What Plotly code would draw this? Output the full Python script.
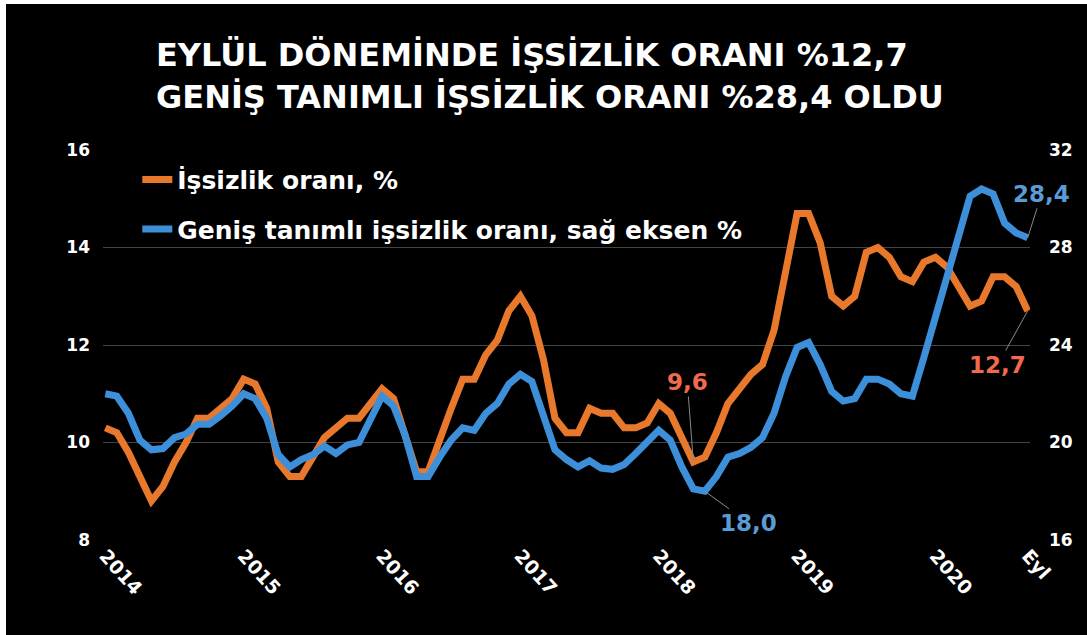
import plotly.graph_objects as go

# Monthly data, Jan 2014 .. Sep 2020 (index 0..80)
months = list(range(81))
unemployment = [
    10.3, 10.2, 9.8, 9.3, 8.8, 9.1, 9.6, 10.0, 10.5, 10.5, 10.7, 10.9,
    11.3, 11.2, 10.7, 9.6, 9.3, 9.3, 9.7, 10.1, 10.3, 10.5, 10.5, 10.8,
    11.1, 10.9, 10.2, 9.4, 9.4, 10.1, 10.7, 11.3, 11.3, 11.8, 12.1, 12.7,
    13.0, 12.6, 11.7, 10.5, 10.2, 10.2, 10.7, 10.6, 10.6, 10.3, 10.3, 10.4,
    10.8, 10.6, 10.1, 9.6, 9.7, 10.2, 10.8, 11.1, 11.4, 11.6, 12.3, 13.5,
    14.7, 14.7, 14.1, 13.0, 12.8, 13.0, 13.9, 14.0, 13.8, 13.4, 13.3, 13.7,
    13.8, 13.6, 13.2, 12.8, 12.9, 13.4, 13.4, 13.2, 12.7,
]
broad_unemployment = [
    22.0, 21.9, 21.2, 20.1, 19.7, 19.75, 20.2, 20.35, 20.75, 20.75, 21.1, 21.5,
    22.0, 21.8, 21.0, 19.5, 19.0, 19.3, 19.5, 19.85, 19.55, 19.9, 20.0, 20.9,
    21.9, 21.5, 20.3, 18.6, 18.6, 19.4, 20.1, 20.6, 20.5, 21.2, 21.6, 22.4,
    22.8, 22.5, 21.1, 19.7, 19.3, 19.0, 19.25, 18.95, 18.9, 19.1, 19.55, 20.0,
    20.5, 20.1, 19.0, 18.1, 18.0, 18.6, 19.4, 19.55, 19.8, 20.2, 21.2, 22.7,
    23.9, 24.1, 23.2, 22.1, 21.7, 21.8, 22.6, 22.6, 22.4, 22.0, 21.9, 23.5,
    25.2, 26.8, 28.5, 30.1, 30.4, 30.2, 29.0, 28.6, 28.4,
]
tick_positions = [0, 12, 24, 36, 48, 60, 72, 80]
tick_labels = ["2014", "2015", "2016", "2017", "2018", "2019", "2020", "Eyl"]
title_lines = ["EYLÜL DÖNEMİNDE İŞSİZLİK ORANI %12,7",
               "GENİŞ TANIMLI İŞSİZLİK ORANI %28,4 OLDU"]
series_names = ["İşsizlik oranı, %", "Geniş tanımlı işsizlik oranı, sağ eksen %"]

ORANGE = "#E8782B"
BLUE = "#3E8FDA"
LABEL_RED = "#F06A4E"
LABEL_BLUE = "#5B9BD5"
FONT = "DejaVu Sans"

fig = go.Figure()
fig.add_trace(go.Scatter(
    x=months, y=unemployment, name=series_names[0], mode="lines",
    line=dict(color=ORANGE, width=7), legendgroup="a", yaxis="y"))
fig.add_trace(go.Scatter(
    x=months, y=broad_unemployment, name=series_names[1], mode="lines",
    line=dict(color=BLUE, width=7), legendgroup="b", yaxis="y2"))

ann_font = dict(family=FONT, size=23, weight="bold")
annotations = [
    dict(x=51, y=unemployment[51], xref="x", yref="y", text="9,6",
         font=dict(ann_font, color=LABEL_RED), ax=-6, ay=-80),
    dict(x=52, y=broad_unemployment[52], xref="x", yref="y2", text="18,0",
         font=dict(ann_font, color=LABEL_BLUE), ax=44, ay=32),
    dict(x=80, y=broad_unemployment[80], xref="x", yref="y2", text="28,4",
         font=dict(ann_font, color=LABEL_BLUE), ax=14, ay=-44),
    dict(x=80, y=unemployment[80], xref="x", yref="y", text="12,7",
         font=dict(ann_font, color=LABEL_RED), ax=-30, ay=54),
]
for a in annotations:
    a.update(showarrow=True, arrowhead=0, arrowwidth=1, arrowcolor="#8a8a8a")

tick_font = dict(family=FONT, size=17, color="white", weight="bold")
xtick_font = dict(family=FONT, size=19, color="white", weight="bold")

fig.update_layout(
    width=1081, height=631,
    paper_bgcolor="black", plot_bgcolor="black",
    margin=dict(l=97, r=57, t=146, b=95),
    title=dict(text="<br>".join(title_lines), xref="container", yref="container",
               x=150 / 1081, xanchor="left", y=1 - 62 / 631, yanchor="top",
               font=dict(family=FONT, size=32, color="white", weight="bold")),
    showlegend=True,
    legend=dict(x=0.037, y=0.983, xanchor="left", yanchor="top",
                bgcolor="rgba(0,0,0,0)", tracegroupgap=14,
                font=dict(family=FONT, size=25, color="white", weight="bold")),
    xaxis=dict(range=[-0.2, 80.2], tickmode="array", tickvals=tick_positions,
               ticktext=tick_labels, tickangle=48, tickfont=xtick_font,
               showgrid=False, zeroline=False, showline=False, ticks=""),
    yaxis=dict(range=[8, 16], dtick=2, tickfont=tick_font, gridcolor="#444444",
               gridwidth=1, zeroline=False, showline=False, ticklabelstandoff=12),
    yaxis2=dict(range=[16, 32], dtick=4, tickfont=tick_font, overlaying="y",
                side="right", showgrid=False, zeroline=False, showline=False,
                ticklabelstandoff=18),
    annotations=annotations,
)

fig.write_html("out.html",
               post_script="document.body.style.margin='4px 0 0 6px';"
                           "document.body.style.overflow='hidden';")
